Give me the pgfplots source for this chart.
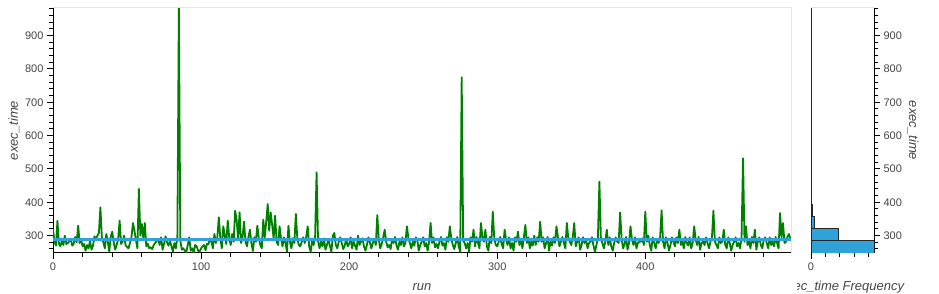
\documentclass[border=0pt]{standalone}
\usepackage{fontspec}
\setmainfont{Liberation Sans}
\usepackage{pgfplots}
\usepackage{pgfplotstable}
\pgfplotsset{compat=1.18}
\definecolor{bokgreen}{RGB}{0,128,0}
\definecolor{bokblue}{RGB}{48,162,218}
\definecolor{labgray}{RGB}{68,68,68}
\definecolor{outlinegray}{RGB}{229,229,229}
\pgfplotstableread[row sep=\\]{
exec\\
320\\ 282\\ 270\\ 345\\ 276\\ 268\\ 285\\ 272\\ 300\\ 275\\
278\\ 283\\ 290\\ 270\\ 276\\ 296\\ 280\\ 330\\ 278\\ 288\\
268\\ 275\\ 255\\ 272\\ 262\\ 284\\ 258\\ 270\\ 298\\ 290\\
300\\ 308\\ 385\\ 295\\ 280\\ 262\\ 305\\ 282\\ 252\\ 298\\
312\\ 280\\ 258\\ 272\\ 290\\ 345\\ 275\\ 282\\ 300\\ 272\\
266\\ 262\\ 278\\ 296\\ 338\\ 315\\ 288\\ 262\\ 440\\ 300\\
335\\ 292\\ 338\\ 268\\ 276\\ 262\\ 265\\ 260\\ 272\\ 278\\
284\\ 290\\ 272\\ 295\\ 258\\ 276\\ 298\\ 280\\ 270\\ 284\\
268\\ 252\\ 278\\ 262\\ 296\\ 983\\ 285\\ 258\\ 262\\ 255\\
250\\ 272\\ 295\\ 255\\ 262\\ 250\\ 272\\ 268\\ 255\\ 252\\
262\\ 268\\ 272\\ 256\\ 276\\ 274\\ 292\\ 282\\ 262\\ 305\\
278\\ 296\\ 355\\ 292\\ 262\\ 328\\ 300\\ 275\\ 345\\ 295\\
272\\ 305\\ 282\\ 375\\ 348\\ 292\\ 370\\ 278\\ 295\\ 342\\
282\\ 268\\ 296\\ 318\\ 278\\ 254\\ 295\\ 282\\ 330\\ 292\\
272\\ 262\\ 348\\ 295\\ 342\\ 395\\ 315\\ 370\\ 332\\ 292\\
360\\ 282\\ 272\\ 328\\ 292\\ 268\\ 295\\ 278\\ 252\\ 330\\
282\\ 262\\ 292\\ 278\\ 365\\ 292\\ 272\\ 268\\ 282\\ 295\\
278\\ 296\\ 328\\ 268\\ 252\\ 284\\ 272\\ 295\\ 490\\ 284\\
262\\ 282\\ 268\\ 292\\ 258\\ 272\\ 288\\ 270\\ 252\\ 300\\
308\\ 272\\ 262\\ 282\\ 295\\ 278\\ 260\\ 270\\ 290\\ 268\\
275\\ 295\\ 262\\ 282\\ 270\\ 258\\ 300\\ 272\\ 282\\ 292\\
268\\ 255\\ 272\\ 295\\ 280\\ 262\\ 278\\ 290\\ 272\\ 362\\
288\\ 262\\ 275\\ 295\\ 318\\ 282\\ 265\\ 272\\ 260\\ 290\\
278\\ 296\\ 270\\ 258\\ 282\\ 272\\ 295\\ 268\\ 278\\ 328\\
292\\ 278\\ 262\\ 282\\ 270\\ 295\\ 288\\ 255\\ 272\\ 282\\
295\\ 268\\ 278\\ 255\\ 282\\ 338\\ 278\\ 295\\ 265\\ 275\\
262\\ 282\\ 296\\ 270\\ 278\\ 258\\ 295\\ 282\\ 328\\ 292\\
272\\ 260\\ 278\\ 296\\ 268\\ 252\\ 775\\ 285\\ 278\\ 262\\
278\\ 252\\ 295\\ 282\\ 318\\ 268\\ 296\\ 278\\ 262\\ 338\\
295\\ 282\\ 318\\ 268\\ 255\\ 296\\ 278\\ 372\\ 292\\ 272\\
268\\ 282\\ 296\\ 275\\ 262\\ 318\\ 288\\ 272\\ 295\\ 262\\
278\\ 255\\ 295\\ 282\\ 312\\ 272\\ 288\\ 262\\ 295\\ 332\\
278\\ 295\\ 262\\ 282\\ 270\\ 300\\ 272\\ 295\\ 282\\ 342\\
282\\ 295\\ 262\\ 278\\ 296\\ 255\\ 282\\ 270\\ 295\\ 278\\
328\\ 295\\ 268\\ 282\\ 296\\ 278\\ 262\\ 338\\ 292\\ 282\\
272\\ 296\\ 338\\ 268\\ 282\\ 295\\ 258\\ 272\\ 295\\ 278\\
288\\ 262\\ 278\\ 282\\ 295\\ 270\\ 252\\ 272\\ 295\\ 462\\
292\\ 278\\ 262\\ 282\\ 318\\ 272\\ 295\\ 268\\ 255\\ 278\\
295\\ 282\\ 278\\ 370\\ 292\\ 262\\ 275\\ 296\\ 258\\ 278\\
328\\ 288\\ 272\\ 295\\ 262\\ 278\\ 282\\ 282\\ 292\\ 272\\
372\\ 282\\ 300\\ 272\\ 255\\ 295\\ 278\\ 262\\ 288\\ 278\\
295\\ 376\\ 282\\ 262\\ 295\\ 278\\ 255\\ 272\\ 295\\ 282\\
268\\ 295\\ 278\\ 318\\ 272\\ 282\\ 262\\ 296\\ 278\\ 270\\
295\\ 262\\ 278\\ 328\\ 288\\ 272\\ 296\\ 258\\ 278\\ 282\\
272\\ 295\\ 278\\ 262\\ 282\\ 295\\ 375\\ 282\\ 272\\ 262\\
295\\ 278\\ 282\\ 318\\ 272\\ 262\\ 295\\ 278\\ 255\\ 272\\
282\\ 295\\ 268\\ 278\\ 262\\ 295\\ 532\\ 282\\ 328\\ 272\\
282\\ 262\\ 296\\ 278\\ 318\\ 258\\ 282\\ 295\\ 272\\ 262\\
288\\ 295\\ 278\\ 262\\ 295\\ 272\\ 282\\ 268\\ 296\\ 278\\
262\\ 368\\ 295\\ 338\\ 278\\ 282\\ 296\\ 305\\ 290\\
}\runtable
\pgfplotsset{
  bokstyle/.style={
    scale only axis,
    height=245pt,
    ymin=248, ymax=983,
    axis line style={-, black, line width=1pt},
    tick align=outside,
    major tick length=6pt,
    minor tick length=4pt,
    every tick/.style={black, line width=1pt},
    ytick={300,400,...,900},
    minor ytick={260,280,...,980},
    /pgf/number format/assume math mode=true,
    tick label style={font=\fontsize{11}{13}\selectfont, text=labgray},
    label style={font=\fontsize{13}{15}\selectfont\itshape, text=labgray},
  }
}
\begin{document}
\begin{tikzpicture}
\path[use as bounding box] (0pt,0pt) rectangle (939pt,294pt);
\begin{axis}[
  bokstyle,
  name=main,
  width=738pt,
  at={(53pt,41pt)}, anchor=south west,
  xmin=0, xmax=498.4,
  axis x line*=bottom, axis y line*=left,
  xtick={0,100,...,400},
  minor xtick={20,40,...,480},
  xlabel={run},
  ylabel={exec\_time},
  xlabel style={at={(axis description cs:0.5,-0.155)}, anchor=base},
  ylabel style={at={(axis description cs:-0.0528,0.5)}, anchor=center},
]
\addplot[bokgreen, line width=1.8pt, line join=round, no markers] table[x expr=\coordindex, y=exec] {\runtable};
\addplot[bokblue, line width=3pt, no markers] coordinates {(0,288) (498.4,288)};
\end{axis}
\draw[outlinegray, line width=1pt] (main.north west) -- (main.north east) -- (main.south east);
\begin{axis}[
  bokstyle,
  name=hist,
  width=63pt,
  at={(811pt,41pt)}, anchor=south west,
  xmin=0, xmax=174,
  axis x line*=bottom, axis y line*=right,
  xtick={0},
  minor xtick={40,80,120,160},
  ylabel={exec\_time},
  ylabel style={at={(axis description cs:1.62,0.5)}, anchor=center, rotate=180},
]
\addplot[xbar interval, fill=bokblue, draw=black!85, line width=0.8pt] coordinates {
(400,248) (75,284.75) (8,321.5) (4,358.25) (0,395) (2,431.75) (1,468.5)
(1,505.25) (0,542) (0,578.75) (0,615.5) (0,652.25) (0,689) (0,725.75)
(1,762.5) (0,799.25) (0,836) (0,872.75) (0,909.5) (1,946.25) (1,983)};
\end{axis}
\draw[outlinegray, line width=1pt] (hist.north west) -- (hist.north east);
\begin{scope}
\clip (797pt,0pt) rectangle (939pt,294pt);
\node[anchor=base, font=\fontsize{13}{15}\selectfont\itshape, text=labgray] at (842pt,3pt) {exec\_time Frequency};
\end{scope}
\end{tikzpicture}
\end{document}
